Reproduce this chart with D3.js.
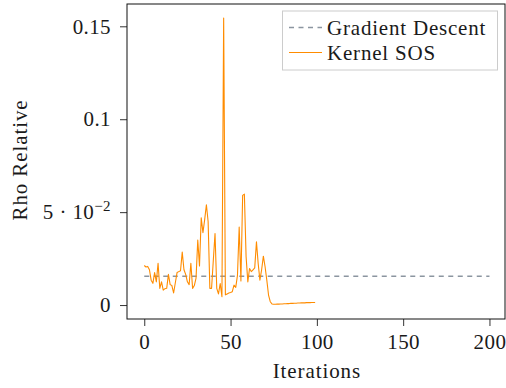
<!DOCTYPE html>
<html>
<head>
<meta charset="utf-8">
<script src="https://cdn.jsdelivr.net/npm/d3@7"></script>
<style>
  html, body { margin: 0; padding: 0; background: #fff; }
  svg text { font-family: "Liberation Serif", "DejaVu Serif", serif; fill: #1a1a1a; }
</style>
</head>
<body>
<div id="chart"></div>
<script>
// Relative rho error per iteration for the two solvers
const kernelSosIterations = d3.range(0, 100);
const kernelSosValues = [
  0.0213, 0.0205, 0.0208, 0.0190, 0.0134, 0.0117, 0.0175, 0.0125, 0.0225, 0.0090,
  0.0125, 0.0080, 0.0088, 0.0090, 0.0165, 0.0110, 0.0105, 0.0065, 0.0120, 0.0175,
  0.0180, 0.0185, 0.0285, 0.0190, 0.0165, 0.0125, 0.0110, 0.0225, 0.0090, 0.0105,
  0.0145, 0.0350, 0.0210, 0.0470, 0.0390, 0.0460, 0.0540, 0.0450, 0.0090, 0.0090,
  0.0240, 0.0385, 0.0090, 0.0060, 0.0116, 0.0045, 0.1545, 0.0055, 0.0060, 0.0065,
  0.0068, 0.0072, 0.0107, 0.0095, 0.0160, 0.0420, 0.0130, 0.0590, 0.0597, 0.0260,
  0.0125, 0.0197, 0.0180, 0.0190, 0.0200, 0.0340, 0.0224, 0.0134, 0.0190, 0.0263,
  0.0206, 0.0134, 0.0054, 0.0018, 0.0006, 0.0004, 0.0004, 0.0005, 0.0005, 0.0006,
  0.0006, 0.0007, 0.0007, 0.0008, 0.0008, 0.0009, 0.0009, 0.0010, 0.0010, 0.0011,
  0.0011, 0.0012, 0.0012, 0.0012, 0.0013, 0.0013, 0.0013, 0.0014, 0.0014, 0.0014
];
const gradientIterations = [0, 200];
const gradientValues = [0.0155, 0.0155];

const xTicks = [0, 50, 100, 150, 200];
const yTicks = [0, 0.05, 0.1, 0.15];
const seriesNames = ["Gradient Descent", "Kernel SOS"];

const width = 506, height = 388;
const plot = { left: 127, right: 505, top: 4, bottom: 319 };
const orange = "#ff8c00";
const gray = "#8b95a0";
const dash = "5,4.5";

const svg = d3.select("#chart").append("svg")
  .attr("width", width).attr("height", height);

const x = d3.scaleLinear().domain([-10, 209]).range([plot.left, plot.right]);
const y = d3.scaleLinear().domain([-0.0075, 0.162]).range([plot.bottom, plot.top]);

svg.append("clipPath").attr("id", "plot-clip")
  .append("rect")
  .attr("x", plot.left).attr("y", plot.top)
  .attr("width", plot.right - plot.left).attr("height", plot.bottom - plot.top);

const line = d3.line().x(d => x(d[0])).y(d => y(d[1]));

const marks = svg.append("g").attr("clip-path", "url(#plot-clip)");

marks.append("path")
  .datum(d3.zip(gradientIterations, gradientValues))
  .attr("d", line)
  .attr("fill", "none")
  .attr("stroke", gray)
  .attr("stroke-width", 1.3)
  .attr("stroke-dasharray", dash);

marks.append("path")
  .datum(d3.zip(kernelSosIterations, kernelSosValues))
  .attr("d", line)
  .attr("fill", "none")
  .attr("stroke", orange)
  .attr("stroke-width", 1.1)
  .attr("stroke-linejoin", "round");

// Axes: ticks outside the frame
const xAxis = d3.axisBottom(x).tickValues(xTicks).tickSize(7).tickPadding(8)
  .tickFormat(d3.format("d"));
const gx = svg.append("g").attr("transform", `translate(0,${plot.bottom})`).call(xAxis);
gx.select(".domain").remove();
gx.selectAll(".tick line").attr("stroke", "#333");
gx.selectAll(".tick text").attr("font-size", 21).attr("font-family", "Liberation Serif")
  .attr("fill", "#1a1a1a").attr("letter-spacing", 0.4);

const yAxis = d3.axisLeft(y).tickValues(yTicks).tickSize(7).tickPadding(9).tickFormat(() => "");
const gy = svg.append("g").attr("transform", `translate(${plot.left},0)`).call(yAxis);
gy.select(".domain").remove();
gy.selectAll(".tick line").attr("stroke", "#333");
gy.selectAll(".tick text")
  .attr("font-size", 21).attr("font-family", "Liberation Serif").attr("fill", "#1a1a1a")
  .attr("letter-spacing", 0.4)
  .each(function(d) {
    const t = d3.select(this);
    if (d === 0.05) {
      t.append("tspan").text("5 · 10");
      t.append("tspan").attr("font-size", 15).attr("dy", -8).text("−2");
    } else {
      t.text(d3.format("")(d));
    }
  });

// Frame
svg.append("rect")
  .attr("x", plot.left).attr("y", plot.top)
  .attr("width", plot.right - plot.left).attr("height", plot.bottom - plot.top)
  .attr("fill", "none").attr("stroke", "#111").attr("stroke-width", 1);

// Axis titles
svg.append("text")
  .attr("x", x(100)).attr("y", 378)
  .attr("text-anchor", "middle").attr("font-size", 21).attr("letter-spacing", 0.9)
  .text("Iterations");

svg.append("text")
  .attr("transform", `translate(27,160) rotate(-90)`)
  .attr("text-anchor", "middle").attr("font-size", 21).attr("letter-spacing", 0.9)
  .text("Rho Relative");

// Legend
const legend = svg.append("g");
legend.append("rect")
  .attr("x", 282.5).attr("y", 11).attr("width", 215).attr("height", 59)
  .attr("fill", "#fff").attr("stroke", "#cccccc").attr("stroke-width", 1);

const legendRows = [
  { name: seriesNames[0], color: gray, dash: dash, width: 1.3, y: 27.5 },
  { name: seriesNames[1], color: orange, dash: null, width: 1.1, y: 52.5 }
];
legendRows.forEach(r => {
  legend.append("line")
    .attr("x1", 289).attr("x2", 322).attr("y1", r.y).attr("y2", r.y)
    .attr("stroke", r.color).attr("stroke-width", r.width)
    .attr("stroke-dasharray", r.dash);
  legend.append("text")
    .attr("x", 327).attr("y", r.y + 7)
    .attr("font-size", 21).attr("letter-spacing", 0.8)
    .text(r.name);
});
</script>
</body>
</html>
